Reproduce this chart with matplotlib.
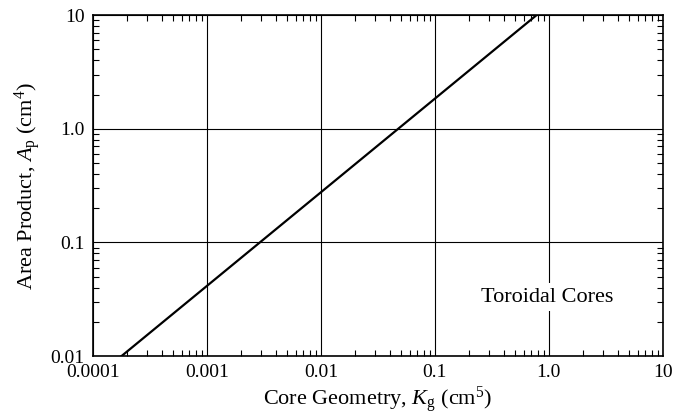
import numpy as np
import matplotlib
matplotlib.use('Agg')
import matplotlib.pyplot as plt

plt.rcParams['font.family'] = 'Liberation Serif'
plt.rcParams['mathtext.fontset'] = 'custom'
plt.rcParams['mathtext.rm'] = 'Liberation Serif'
plt.rcParams['mathtext.it'] = 'Liberation Serif:italic'

# line data
kg = [0.000178, 0.78]
ap = [0.01, 10.0]

x_ticks = [0.0001, 0.001, 0.01, 0.1, 1.0, 10]
x_labels = ['0.0001', '0.001', '0.01', '0.1', '1.0', '10']
y_ticks = [0.01, 0.1, 1.0, 10]
y_labels = ['0.01', '0.1', '1.0', '10']

fig = plt.figure(figsize=(6.73, 4.19), dpi=100)
ax = fig.add_axes([0.138, 0.150, 0.847, 0.814])

ax.plot(kg, ap, color='black', lw=1.6)

ax.set_xscale('log')
ax.set_yscale('log')
ax.set_xlim(0.0001, 10)
ax.set_ylim(0.01, 10)

ax.set_xticks(x_ticks)
ax.set_xticklabels(x_labels)
ax.set_yticks(y_ticks)
ax.set_yticklabels(y_labels)

ax.grid(True, which='major', color='black', lw=0.8)
ax.tick_params(which='both', direction='in', top=True, right=True, labelsize=14)
ax.tick_params(which='major', length=0, pad=6)
ax.tick_params(which='minor', length=4.5, width=0.8)
for s in ax.spines.values():
    s.set_linewidth(1.2)

ax.set_xlabel(r'Core Geometry, $K_{\mathrm{g}}$ (cm$^{5}$)', fontsize=16, labelpad=2)
ax.set_ylabel(r'Area Product, $A_{\mathrm{p}}$ (cm$^{4}$)', fontsize=16, labelpad=5)

ax.text(0.97, 0.033, 'Toroidal Cores', fontsize=16, ha='center', va='center',
        bbox=dict(facecolor='white', edgecolor='none', pad=3))

fig.savefig('out.png', dpi=100)
